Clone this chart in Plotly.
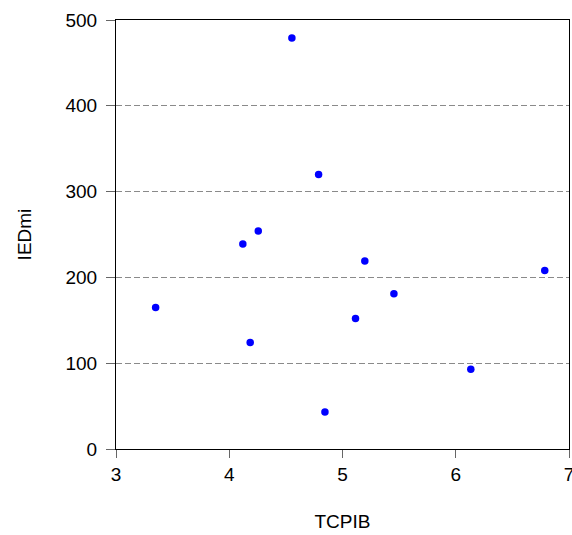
import plotly.graph_objects as go

tcpib = [3.35, 4.12, 4.256, 4.185, 4.553, 4.789, 4.845, 5.197, 5.115, 5.454, 6.786, 6.133]
iedmi = [165, 239, 254, 124, 479, 320, 43, 219, 152, 181, 208, 93]

x_ticks = [3, 4, 5, 6, 7]
y_ticks = [0, 100, 200, 300, 400, 500]

fig = go.Figure()
fig.add_trace(go.Scatter(
    x=tcpib, y=iedmi, mode="markers",
    marker=dict(color="#0000FF", size=7.5, line=dict(width=0)),
    showlegend=False,
))

font = dict(family="Liberation Sans, Arial, sans-serif", size=19, color="black")

fig.update_layout(
    width=572, height=535,
    margin=dict(l=116, r=3, t=20, b=86),
    paper_bgcolor="white", plot_bgcolor="white",
    font=font,
    xaxis=dict(
        range=[3, 7], tickvals=x_ticks, ticks="outside", ticklen=8, tickcolor="#666666",
        ticklabeloverflow="allow",
        showline=True, linecolor="black", linewidth=1, mirror=True,
        showgrid=False, zeroline=False,
        title=dict(text="TCPIB", standoff=30, font=font),
        automargin=False,
    ),
    yaxis=dict(
        range=[0, 500], tickvals=y_ticks, ticks="outside", ticklen=9, tickcolor="#666666",
        ticklabelstandoff=5,
        showline=True, linecolor="black", linewidth=1, mirror=True,
        showgrid=True, gridcolor="#8a8a8a", griddash="6px,3px", gridwidth=1,
        zeroline=False,
        title=dict(text="IEDmi", standoff=28, font=font),
        automargin=False,
    ),
)

fig.write_html("out.html")
